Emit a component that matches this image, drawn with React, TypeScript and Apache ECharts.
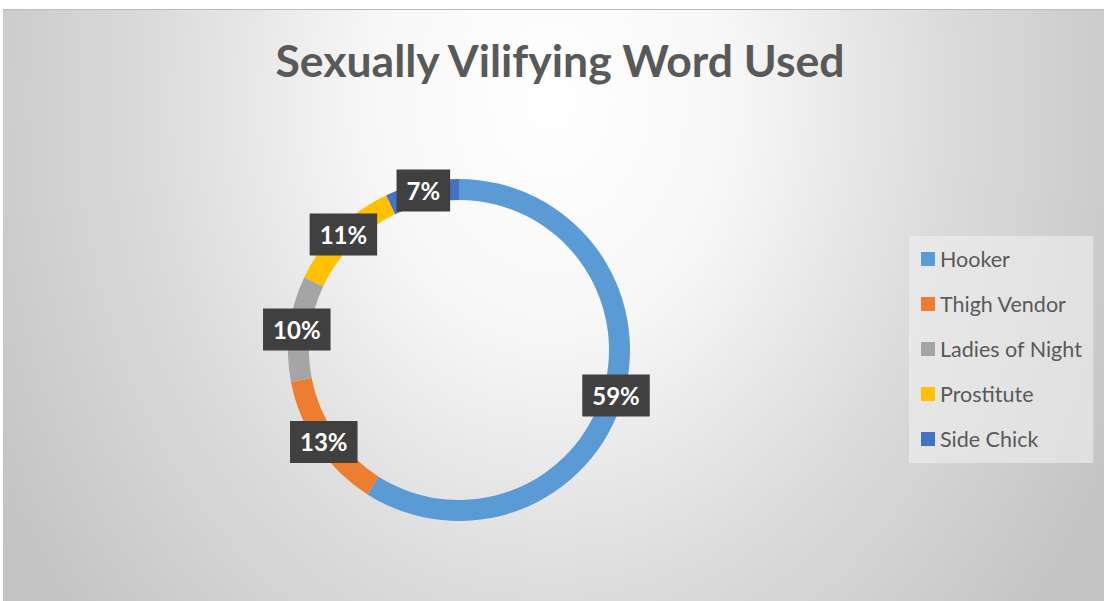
import React, { useEffect, useRef } from "react";
import * as echarts from "echarts";

const titleText = "Sexually Vilifying Word Used";
const categories = ["Hooker", "Thigh Vendor", "Ladies of Night", "Prostitute", "Side Chick"];
const values = [59, 13, 10, 11, 7];
const colors = ["#5B9BD5", "#ED7D31", "#A5A5A5", "#FFC000", "#4472C4"];

export default function App() {
  const ref = useRef<HTMLDivElement>(null);
  useEffect(() => {
    document.body.style.margin = "0";
    const chart = echarts.init(ref.current!, null, { renderer: "svg" });
    const k = 0.79;
    chart.setOption({
      animation: false,
      backgroundColor: "#ffffff",
      graphic: [
        {
          type: "rect",
          z: -10,
          silent: true,
          scaleX: k,
          shape: { x: 3 / k, y: 9, width: 1101 / k, height: 592 },
          style: {
            fill: {
              type: "radial",
              x: 551 / k,
              y: 100,
              r: 825,
              global: true,
              colorStops: [
                { offset: 0, color: "#ffffff" },
                { offset: 0.28, color: "#f7f7f7" },
                { offset: 0.6, color: "#dcdcdc" },
                { offset: 1, color: "#c2c2c2" },
              ],
            },
          },
        },
        {
          type: "line",
          z: -9,
          silent: true,
          shape: { x1: 3, y1: 9.5, x2: 1104, y2: 9.5 },
          style: { stroke: "#bcbcbc", lineWidth: 1 },
        },
      ],
      title: {
        text: titleText,
        left: 555,
        top: 32,
        textAlign: "center",
        textStyle: {
          fontFamily: "Lato",
          fontWeight: "bold",
          fontSize: 44.5,
          color: "#595959",
        },
      },
      color: colors,
      legend: {
        orient: "vertical",
        left: 909,
        top: 236,
        padding: [12, 11, 13, 12],
        itemGap: 23,
        itemWidth: 14,
        itemHeight: 14,
        itemTextGap: 6,
        icon: "rect",
        backgroundColor: "rgba(240,240,240,0.6)",
        data: categories,
        textStyle: {
          fontFamily: "Lato",
          fontSize: 21.5,
          lineHeight: 20,
          color: "#595959",
        },
      },
      series: [
        {
          type: "pie",
          center: [459, 350],
          radius: [150, 171],
          startAngle: 90,
          clockwise: true,
          avoidLabelOverlap: false,
          data: categories.map((name, i) => ({ name, value: values[i] })),
          label: {
            show: true,
            position: "inside",
            formatter: "{c}%",
            color: "#ffffff",
            fontFamily: "Lato",
            fontWeight: "bold",
            fontSize: 24,
            lineHeight: 22,
            backgroundColor: "#404040",
            padding: [10, 10],
          },
          labelLine: { show: false },
          emphasis: { disabled: true },
        },
      ],
    });
    return () => chart.dispose();
  }, []);
  return <div ref={ref} style={{ width: 1104, height: 601 }} />;
}
